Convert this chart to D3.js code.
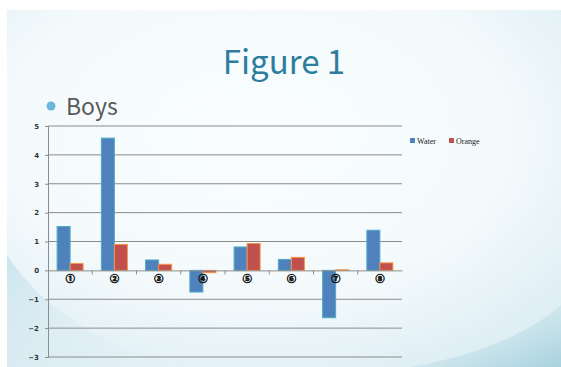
<!DOCTYPE html>
<html>
<head>
<meta charset="utf-8">
<script src="https://cdn.jsdelivr.net/npm/d3@7"></script>
<style>
  html, body { margin: 0; padding: 0; background: #ffffff; }
  svg { display: block; }
</style>
</head>
<body>
<svg id="chart" width="561" height="367"></svg>
<script>
// Chart data
const categories = ["①", "②", "③", "④", "⑤", "⑥", "⑦", "⑧"];
const seriesNames = ["Water", "Orange"];
const water  = [1.52, 4.58, 0.36, -0.75, 0.81, 0.38, -1.64, 1.39];
const orange = [0.24, 0.90, 0.21, -0.08, 0.93, 0.45, 0.02, 0.26];
const yTicks = [-3, -2, -1, 0, 1, 2, 3, 4, 5];

(function () {
const W = 561, H = 367;
const svg = d3.select("#chart");
const defs = svg.append("defs");

// Slide background
const bg = defs.append("radialGradient").attr("id", "bgGrad")
  .attr("cx", "45%").attr("cy", "35%").attr("r", "75%");
bg.append("stop").attr("offset", "0%").attr("stop-color", "#f9fdfe");
bg.append("stop").attr("offset", "60%").attr("stop-color", "#f4fafc");
bg.append("stop").attr("offset", "100%").attr("stop-color", "#dcedf3");

const waveL = defs.append("linearGradient").attr("id", "waveL")
  .attr("x1", "0").attr("y1", "0").attr("x2", "1").attr("y2", "1");
waveL.append("stop").attr("offset", "0%").attr("stop-color", "#c6e1eb").attr("stop-opacity", 0.8);
waveL.append("stop").attr("offset", "100%").attr("stop-color", "#e9f4f8").attr("stop-opacity", 0.2);

const waveR = defs.append("linearGradient").attr("id", "waveR")
  .attr("x1", "0").attr("y1", "0").attr("x2", "1").attr("y2", "1");
waveR.append("stop").attr("offset", "0%").attr("stop-color", "#e6f2f6").attr("stop-opacity", 0.2);
waveR.append("stop").attr("offset", "100%").attr("stop-color", "#a3d0dd").attr("stop-opacity", 0.95);

svg.append("rect").attr("x", 7).attr("y", 10).attr("width", W - 7).attr("height", H - 10)
  .attr("fill", "url(#bgGrad)");
svg.append("path")
  .attr("d", "M7,255 C40,305 90,340 180,367 L7,367 Z")
  .attr("fill", "url(#waveL)");
svg.append("path")
  .attr("d", "M561,305 C530,333 475,356 410,367 L561,367 Z")
  .attr("fill", "url(#waveR)");

// Titles
svg.append("text").attr("x", 284).attr("y", 74)
  .attr("text-anchor", "middle")
  .attr("font-family", "'Noto Sans CJK JP', 'Noto Sans', sans-serif")
  .attr("font-size", 33).attr("fill", "#2d7d9e")
  .text("Figure 1");
svg.append("circle").attr("cx", 51).attr("cy", 106).attr("r", 4.5).attr("fill", "#6cb7d9");
svg.append("text").attr("x", 66).attr("y", 115)
  .attr("font-family", "'Noto Sans CJK JP', 'Noto Sans', sans-serif")
  .attr("font-size", 23).attr("fill", "#595959")
  .text("Boys");

// Plot area
const plotLeft = 48, plotRight = 402, plotTop = 126, plotBottom = 357;
const x = d3.scaleBand().domain(categories).range([plotLeft, plotRight]).paddingInner(0).paddingOuter(0);
const y = d3.scaleLinear().domain([-3, 5]).range([plotBottom, plotTop]);
const inner = d3.scaleBand().domain(seriesNames).range([0, x.bandwidth()]).paddingInner(0).paddingOuter(0.7);

// Gridlines
svg.append("g")
  .selectAll("line").data(yTicks.filter(d => d !== 0)).join("line")
  .attr("x1", plotLeft).attr("x2", plotRight)
  .attr("y1", d => y(d)).attr("y2", d => y(d))
  .attr("stroke", "#8c8c8c").attr("stroke-width", 1);

// Bars
const rows = categories.map((c, i) => ({ c, vals: [water[i], orange[i]] }));
const fills = ["#4f81bd", "#c0504d"];
const strokes = ["#4bacc6", "#f79646"];
const groups = svg.append("g").selectAll("g").data(rows).join("g")
  .attr("transform", d => `translate(${x(d.c)},0)`);
groups.selectAll("rect")
  .data(d => d.vals.map((v, k) => ({ v, k })))
  .join("rect")
  .attr("x", d => inner(seriesNames[d.k]))
  .attr("width", inner.bandwidth())
  .attr("y", d => y(Math.max(0, d.v)))
  .attr("height", d => Math.abs(y(d.v) - y(0)))
  .attr("fill", d => fills[d.k])
  .attr("stroke", d => strokes[d.k])
  .attr("stroke-width", 1);

// Y axis
const yAxis = d3.axisLeft(y).tickValues(yTicks).tickSize(3).tickFormat(d3.format("d"));
const yg = svg.append("g").attr("transform", `translate(${plotLeft},0)`).call(yAxis);
yg.select(".domain").attr("stroke", "#8c8c8c");
yg.selectAll(".tick line").attr("stroke", "#8c8c8c");
yg.selectAll(".tick text")
  .attr("x", -9)
  .attr("font-family", "'DejaVu Sans', sans-serif")
  .attr("font-size", 7).attr("font-weight", "bold").attr("fill", "#333");

// X axis at zero
const xAxis = d3.axisBottom(x).tickSize(0).tickSizeOuter(0);
const xg = svg.append("g").attr("transform", `translate(0,${y(0)})`).call(xAxis);
xg.select(".domain").attr("stroke", "#8c8c8c");
xg.selectAll(".tick text")
  .attr("y", 5)
  .attr("font-family", "'Noto Sans CJK JP', sans-serif")
  .attr("font-size", 9).attr("font-weight", "bold").attr("fill", "#111")
  .attr("stroke", "#111").attr("stroke-width", 0.7);
// Category boundary ticks
xg.append("g").selectAll("line")
  .data(categories.slice(1))
  .join("line")
  .attr("x1", d => x(d)).attr("x2", d => x(d))
  .attr("y1", 0).attr("y2", 4)
  .attr("stroke", "#8c8c8c");

// Legend
const legend = svg.append("g").attr("transform", "translate(410,141)");
const items = legend.selectAll("g").data(seriesNames).join("g")
  .attr("transform", (d, i) => `translate(${i * 39},0)`);
items.append("rect").attr("x", 0).attr("y", -3).attr("width", 5).attr("height", 5)
  .attr("fill", (d, i) => fills[i]);
items.append("text").attr("x", 7).attr("y", 2.5)
  .attr("font-family", "'Liberation Serif', serif")
  .attr("font-size", 8).attr("fill", "#222")
  .text(d => d);
})();
</script>
</body>
</html>
